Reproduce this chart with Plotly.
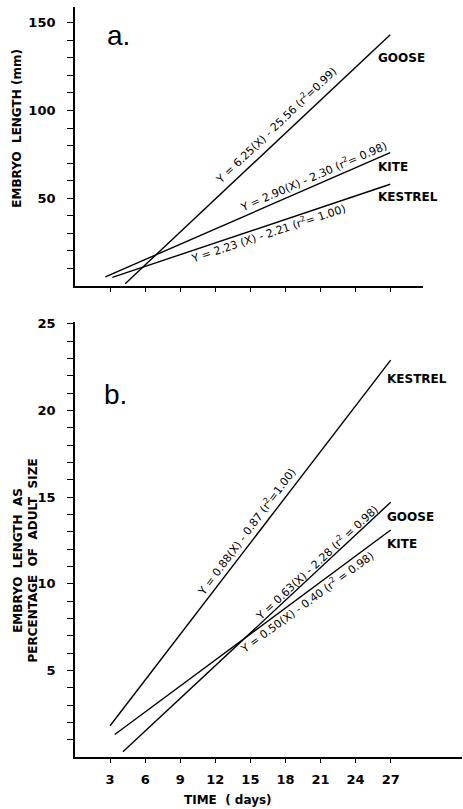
import plotly.graph_objects as go

# ---------------- data ----------------
day_ticks = [3, 6, 9, 12, 15, 18, 21, 24, 27]

# panel a: embryo length (mm) - fitted line endpoints
a_goose_x = [4.3, 27.0]
a_goose_y = [1.3, 143.2]
a_kite_x = [2.6, 27.0]
a_kite_y = [5.2, 76.0]
a_kestrel_x = [3.2, 27.0]
a_kestrel_y = [4.9, 58.0]

# panel b: embryo length as percentage of adult size
b_kestrel_x = [3.0, 27.0]
b_kestrel_y = [1.8, 22.9]
b_goose_x = [4.1, 27.0]
b_goose_y = [0.3, 14.7]
b_kite_x = [3.4, 27.0]
b_kite_y = [1.3, 13.1]

# y ticks: every value gets a tick mark, only the labelled ones get text
a_ytick_vals = [10, 20, 30, 40, 50, 60, 70, 80, 90, 100, 110, 120, 130, 140, 150]
a_ytick_text = ["", "", "", "", "50", "", "", "", "", "100", "", "", "", "", "150"]
b_ytick_vals = list(range(1, 26))
b_ytick_text = ["5" if v == 5 else "10" if v == 10 else "15" if v == 15 else
                "20" if v == 20 else "25" if v == 25 else "" for v in b_ytick_vals]

a_equations = [
    ("Y = 6.25(X) - 25.56 (r<sup>2</sup>=0.99)", 17.2, 91.5, -43.8),
    ("Y = 2.90(X) - 2.30 (r<sup>2</sup>= 0.98)", 20.4, 62.5, -23.4),
    ("Y = 2.23 (X) - 2.21 (r<sup>2</sup>= 1.00)", 16.5, 30.1, -18.3),
]
b_equations = [
    ("Y = 0.88(X) - 0.87 (r<sup>2</sup>=1.00)", 14.7, 13.0, -53.3),
    ("Y = 0.63(X) - 2.28 (r<sup>2</sup> = 0.98)", 20.7, 11.2, -43.0),
    ("Y = 0.50(X) - 0.40 (r<sup>2</sup> = 0.98)", 19.8, 8.9, -36.3),
]
a_labels = [("GOOSE", 25.8, 130.0), ("KITE", 25.8, 68.0), ("KESTREL", 25.8, 50.6)]
b_labels = [("KESTREL", 26.5, 21.8), ("GOOSE", 26.5, 13.85), ("KITE", 26.5, 12.3)]

# ---------------- figure ----------------
fig = go.Figure()
line_style = dict(color="black", width=1.4)

for xs, ys in [(a_goose_x, a_goose_y), (a_kite_x, a_kite_y), (a_kestrel_x, a_kestrel_y)]:
    fig.add_trace(go.Scatter(x=xs, y=ys, mode="lines", line=line_style,
                             xaxis="x", yaxis="y", showlegend=False, hoverinfo="skip"))
for xs, ys in [(b_kestrel_x, b_kestrel_y), (b_goose_x, b_goose_y), (b_kite_x, b_kite_y)]:
    fig.add_trace(go.Scatter(x=xs, y=ys, mode="lines", line=line_style,
                             xaxis="x2", yaxis="y2", showlegend=False, hoverinfo="skip"))

tick_font = dict(family="DejaVu Sans", size=13, color="black", weight="bold")
eq_font = dict(family="DejaVu Sans", size=11, color="black")
lab_font = dict(family="DejaVu Sans", size=12, color="black")
title_font = dict(family="DejaVu Sans", size=12, color="black")

common_x = dict(showgrid=False, zeroline=False, showline=True, linecolor="black", linewidth=1.6,
                ticks="outside", ticklen=4, tickwidth=1.2, tickcolor="black",
                tickmode="array", tickvals=day_ticks, tickfont=tick_font)
common_y = dict(showgrid=False, zeroline=False, showline=True, linecolor="black", linewidth=1.8,
                ticks="outside", ticklen=6, tickwidth=1.2, tickcolor="black",
                tickmode="array", tickfont=tick_font, ticklabelstandoff=9)

fig.update_layout(
    width=463, height=809,
    margin=dict(l=75, r=1, t=4, b=52),
    paper_bgcolor="white", plot_bgcolor="white",
    xaxis=dict(common_x, domain=[0, 0.899], range=[0, 29.8], anchor="y", showticklabels=False),
    yaxis=dict(common_y, domain=[0.628, 1.0], range=[0, 159], anchor="x",
               tickvals=a_ytick_vals, ticktext=a_ytick_text),
    xaxis2=dict(common_x, domain=[0, 1.0], range=[0, 33.1], anchor="y2", ticklabelstandoff=6),
    yaxis2=dict(common_y, domain=[0, 0.580], range=[0, 25.1], anchor="x2",
                tickvals=b_ytick_vals, ticktext=b_ytick_text),
)

ann = []
base = dict(showarrow=False, xanchor="center", yanchor="middle")
for txt, x, y, ang in a_equations:
    ann.append(dict(base, text=txt, x=x, y=y, xref="x", yref="y", textangle=ang, font=eq_font))
for txt, x, y, ang in b_equations:
    ann.append(dict(base, text=txt, x=x, y=y, xref="x2", yref="y2", textangle=ang, font=eq_font))
for txt, x, y in a_labels:
    ann.append(dict(base, text="<b>" + txt + "</b>", x=x, y=y, xref="x", yref="y",
                    xanchor="left", font=lab_font))
for txt, x, y in b_labels:
    ann.append(dict(base, text="<b>" + txt + "</b>", x=x, y=y, xref="x2", yref="y2",
                    xanchor="left", font=lab_font))

ann.append(dict(base, text="a.", x=3.7, y=143, xref="x", yref="y",
                font=dict(family="Liberation Sans", size=28, color="black")))
ann.append(dict(base, text="b.", x=3.5, y=20.9, xref="x2", yref="y2",
                font=dict(family="Liberation Sans", size=28, color="black")))

ann.append(dict(base, text="<b>TIME  ( days)</b>", x=0.395, y=-0.057, xref="paper", yref="paper",
                font=title_font))
ann.append(dict(base, text="<b>EMBRYO  LENGTH (mm)</b>", x=-0.150, y=0.839, xref="paper",
                yref="paper", textangle=-90, font=title_font))
ann.append(dict(base, text="<b>EMBRYO  LENGTH  AS<br>PERCENTAGE  OF  ADULT  SIZE</b>",
                x=-0.129, y=0.262, xref="paper", yref="paper", textangle=-90, font=title_font))

fig.update_layout(annotations=ann)
fig.write_html("out.html", config={"displayModeBar": False},
               post_script="document.body.style.margin='0px';")
